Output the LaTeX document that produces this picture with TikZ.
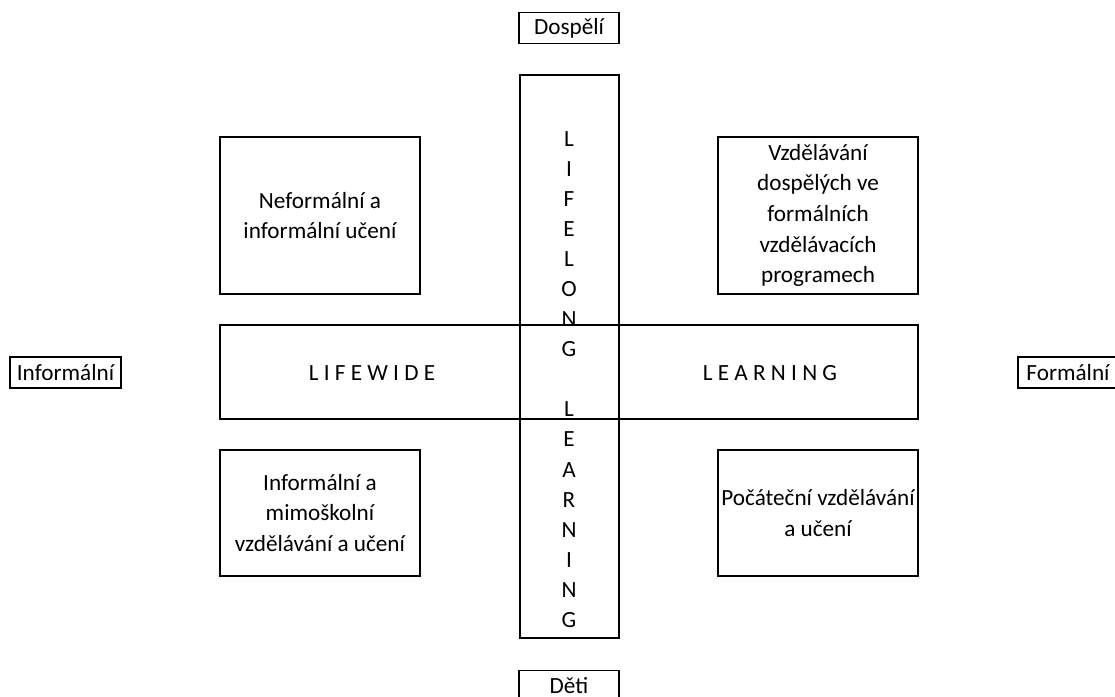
\documentclass[tikz,border=0pt]{standalone}
\usepackage{fontspec}
\setmainfont{Carlito}
\begin{document}
\begin{tikzpicture}[field/.style={rectangle, draw, line width=0.8pt, fill=white,
                                  minimum width=4cm, align=center, inner sep=0pt},
                    axislabel/.style={rectangle, draw, line width=0.8pt, fill=white,
                                      minimum height=0.62cm, inner sep=0pt},
                    bar/.style={rectangle, draw, line width=0.8pt, inner sep=0pt, outer sep=0pt},
                    font=\fontsize{13.2pt}{17.4pt}\selectfont]
  \useasboundingbox (0, 0) rectangle (22.3, -13.94);

  % Cross of the two learning axes.
  \node at (11.39, -7.13) [bar, minimum width=1.98cm, minimum height=11.26cm, name=Lifelong] {};
  \node at (11.38, -7.44) [bar, minimum width=13.96cm, minimum height=1.88cm, name=Lifewide] {};
  \path (Lifelong.west |- Lifewide.north) coordinate (crossNW);
  \path (Lifelong.east |- Lifewide.south) coordinate (crossSE);
  \fill [white] ([shift={(0.6pt, -0.6pt)}]crossNW) rectangle ([shift={(-0.6pt, 0.6pt)}]crossSE);

  % Texts on the cross.
  \node at (11.38, -7.59) [align=center, font=\fontsize{13.2pt}{17.1pt}\selectfont, name=LifelongText]
        {L\\I\\F\\E\\L\\O\\N\\G\\[17.1pt]L\\E\\A\\R\\N\\I\\N\\G};
  \node at (7.44, -7.47) [name=LifewideText] {L I F E W I D E};
  \node at (15.4, -7.47) [name=LearningText] {L E A R N I N G};

  % Axis labels.
  \node at (11.38, -0.56) [axislabel, minimum width=2cm, name=Adults] {Dospělí};
  \node at (11.38, -13.72) [axislabel, minimum width=2cm, name=Children] {Děti};
  \node at (1.31, -7.45) [axislabel, minimum width=2.22cm, name=Informal] {Informální};
  \node at (21.36, -7.45) [axislabel, minimum width=2cm, name=Formal] {Formální};

  % Quadrants.
  \node at (6.4, -4.31) [field, minimum height=3.14cm, name=NonFormal]
        {Neformální a\\informální učení};
  \node at (16.36, -4.31) [field, minimum height=3.14cm, name=AdultFormal]
        {Vzdělávání\\dospělých ve\\formálních\\vzdělávacích\\programech};
  \node at (6.4, -10.26) [field, minimum height=2.52cm, name=OutOfSchool]
        {Informální a\\mimoškolní\\vzdělávání a učení};
  \node at (16.36, -10.26) [field, minimum height=2.52cm, name=Initial]
        {Počáteční vzdělávání\\a učení};
\end{tikzpicture}
\end{document}
